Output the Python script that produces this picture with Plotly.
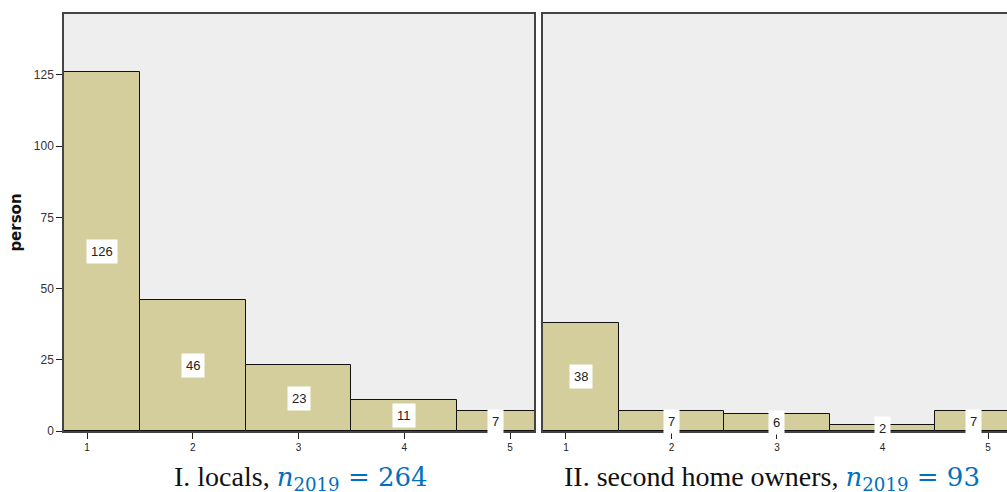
import plotly.graph_objects as go

categories = [1, 2, 3, 4, 5]
locals_counts = [126, 46, 23, 11, 7]
owners_counts = [38, 7, 6, 2, 7]
y_ticks = [0, 25, 50, 75, 100, 125]
caption_left = "I. locals, "
caption_right = "II. second home owners, "
n_left = 264
n_right = 93

W, H = 1007, 492
ML, MT, MB, MR = 64, 14, 61, 0
plot_w = W - ML - MR

x_lo = 0.7825
x_hi_left = 5.227
x_hi_right = 5.18
y_hi = 146.4

fill = "#d3ce9b"
panel_bg = "#eeeeee"

fig = go.Figure()
fig.add_trace(go.Bar(x=categories, y=locals_counts, width=1, marker=dict(color=fill, line=dict(color="#111", width=1)),
                     xaxis="x", yaxis="y", showlegend=False, hoverinfo="skip"))
fig.add_trace(go.Bar(x=categories, y=owners_counts, width=1, marker=dict(color=fill, line=dict(color="#111", width=1)),
                     xaxis="x2", yaxis="y2", showlegend=False, hoverinfo="skip"))

d1 = [0, (534 - ML) / plot_w]
d2 = [(543 - ML) / plot_w, 1]

axis_common = dict(showgrid=False, zeroline=False, ticks="outside", ticklen=6, tickcolor="#222",
                   tickfont=dict(family="Liberation Sans, Arial", size=10, color="#222"))
fig.update_layout(
    width=W, height=H, margin=dict(l=ML, r=MR, t=MT, b=MB),
    paper_bgcolor="white", plot_bgcolor=panel_bg, bargap=0,
    xaxis=dict(domain=d1, range=[x_lo, x_hi_left], tickvals=categories, showline=True, linecolor="#444",
               linewidth=1.5, mirror=True, **axis_common),
    xaxis2=dict(domain=d2, range=[x_lo, x_hi_right], tickvals=categories, showline=True, linecolor="#444",
                linewidth=1.5, mirror=True, anchor="y2", **axis_common),
    yaxis=dict(range=[0, y_hi], tickvals=y_ticks, showline=True, linecolor="#444", linewidth=1.5, mirror=True,
               title=dict(text="<b>person</b>", font=dict(family="DejaVu Sans", size=15, color="#111"), standoff=9),
               **{**axis_common, "tickfont": dict(family="Liberation Sans, Arial", size=12, color="#333")}),
    yaxis2=dict(range=[0, y_hi], showticklabels=False, showline=True, linecolor="#444", linewidth=1.5,
                anchor="x2", showgrid=False, zeroline=False, ticks=""),
)

# value labels at mid-height, centred on the visible part of each bar
def add_labels(vals, xref, yref):
    for c, v in zip(categories, vals):
        lo_edge = max(c - 0.5, x_lo)
        hi_edge = min(c + 0.5, 5.227)
        fig.add_annotation(x=(lo_edge + hi_edge) / 2, y=v / 2, xref=xref, yref=yref, text=str(v),
                           showarrow=False, bgcolor="white", borderpad=4,
                           font=dict(family="Liberation Sans, Arial", size=13, color="#222"))

add_labels(locals_counts, "x", "y")
add_labels(owners_counts, "x2", "y2")

blue = "#0070C0"
def caption(text, n, xpx):
    fig.add_annotation(xref="paper", yref="paper", x=(xpx - ML) / plot_w, y=0, xanchor="left", yanchor="top",
                       yshift=-28, showarrow=False,
                       text=(f"{text}<span style='color:{blue};font-family:DejaVu Serif;font-size:26px'>"
                             f"<i>n</i><sub>2019</sub> = {n}</span>"),
                       font=dict(family="Liberation Serif, Times New Roman", size=28, color="#111"))

caption(caption_left, n_left, 172)
caption(caption_right, n_right, 562)

fig.write_html("out.html", config={"displayModeBar": False},
               post_script="document.body.style.margin='0';")
